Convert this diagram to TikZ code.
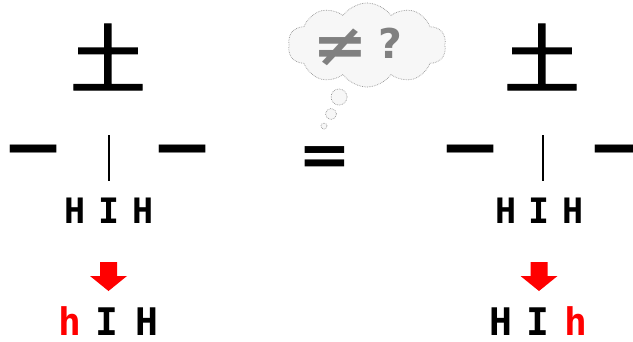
\documentclass[tikz,border=0pt]{standalone}
\usepackage{fontspec}
\usetikzlibrary{shapes.symbols}
\newfontfamily\cjkf{Noto Sans CJK SC}
\newfontfamily\cjkt[FakeBold=1.6]{Noto Sans CJK SC}
\newfontfamily\monof{DejaVu Sans Mono}
\newfontfamily\dvsf{DejaVu Sans}
\definecolor{hred}{RGB}{255,0,0}
\definecolor{cloudgray}{RGB}{150,150,150}
\definecolor{textgray}{RGB}{128,128,128}
\tikzset{
  bigchar/.style={inner sep=0pt, font=\cjkt\fontsize{76}{76}\selectfont},
  stroke/.style={inner sep=0pt, font=\cjkf\bfseries\fontsize{50}{50}\selectfont},
  letter/.style={inner sep=0pt, anchor=base, text depth=0pt, font=\monof\bfseries\fontsize{35}{35}\selectfont},
  letterb/.style={inner sep=0pt, anchor=base, text depth=0pt, font=\monof\bfseries\fontsize{38}{38}\selectfont},
  redletter/.style={letterb, text=hred},
  vbar/.style={line width=2pt, black},
  redarrow/.style={fill=hred, draw=none},
  bubble/.style={draw=cloudgray, densely dotted, fill=gray!6, line width=0.7pt},
}
\begin{document}
\begin{tikzpicture}[x=1pt,y=-1pt]
\fill[white] (0,0) rectangle (633,341);
\useasboundingbox (0,0) rectangle (633,341);

% thought cloud
\node[cloud, cloud puffs=10, cloud puff arc=110, aspect=2, bubble,
      minimum width=158pt, minimum height=84pt] (cloud) at (367,45) {};
\node[inner sep=0pt, text=textgray, xscale=1.15, font=\dvsf\bfseries\fontsize{58}{58}\selectfont] (neq) at (340,47) {≠};
\node[inner sep=0pt, text=textgray, font=\dvsf\bfseries\fontsize{41}{41}\selectfont] (qm) at (390,43) {?};
\node[circle, bubble, minimum size=16pt, inner sep=0pt] (b1) at (339,97) {};
\node[circle, bubble, minimum size=11pt, inner sep=0pt] (b2) at (331,114) {};
\node[circle, bubble, minimum size=6pt, inner sep=0pt] (b3) at (324,126) {};

% equals
\node[inner sep=0pt, font=\dvsf\bfseries\fontsize{60}{60}\selectfont, xscale=1.05] (eq) at (325,161) {=};

% ---- left group ----
\node[bigchar] (tuL) at (108,57) {土};
\node[stroke] (h1L) at (34,157) {一};
\node[stroke] (h2L) at (182,157) {一};
\coordinate (vtL) at (109,135);
\coordinate (vbL) at (109,181);
\draw[vbar] (vtL) -- (vbL);
\node[letter] (L1) at (75,223) {H};
\node[letter] (L2) at (109,223) {I};
\node[letter] (L3) at (143,223) {H};
\fill[redarrow] (100,262) -- (117,262) -- (117,276) -- (127,276) -- (108.5,291) -- (90,276) -- (100,276) -- cycle;
\node[redletter] (M1) at (70,335) {h};
\node[letterb] (M2) at (107,335) {I};
\node[letterb] (M3) at (147,335) {H};

% ---- right group ----
\node[bigchar] (tuR) at (542,57) {土};
\node[stroke] (h1R) at (470,157) {一};
\node[stroke] (h2R) at (618,157) {一};
\coordinate (vtR) at (543,135);
\coordinate (vbR) at (543,181);
\draw[vbar] (vtR) -- (vbR);
\node[letter] (R1) at (506,223) {H};
\node[letter] (R2) at (539,223) {I};
\node[letter] (R3) at (573,223) {H};
\fill[redarrow] (530.5,262) -- (547.5,262) -- (547.5,276) -- (557.5,276) -- (539,291) -- (520.5,276) -- (530.5,276) -- cycle;
\node[letterb] (S1) at (501,335) {H};
\node[letterb] (S2) at (538,335) {I};
\node[redletter] (S3) at (576,335) {h};
\end{tikzpicture}
\end{document}
